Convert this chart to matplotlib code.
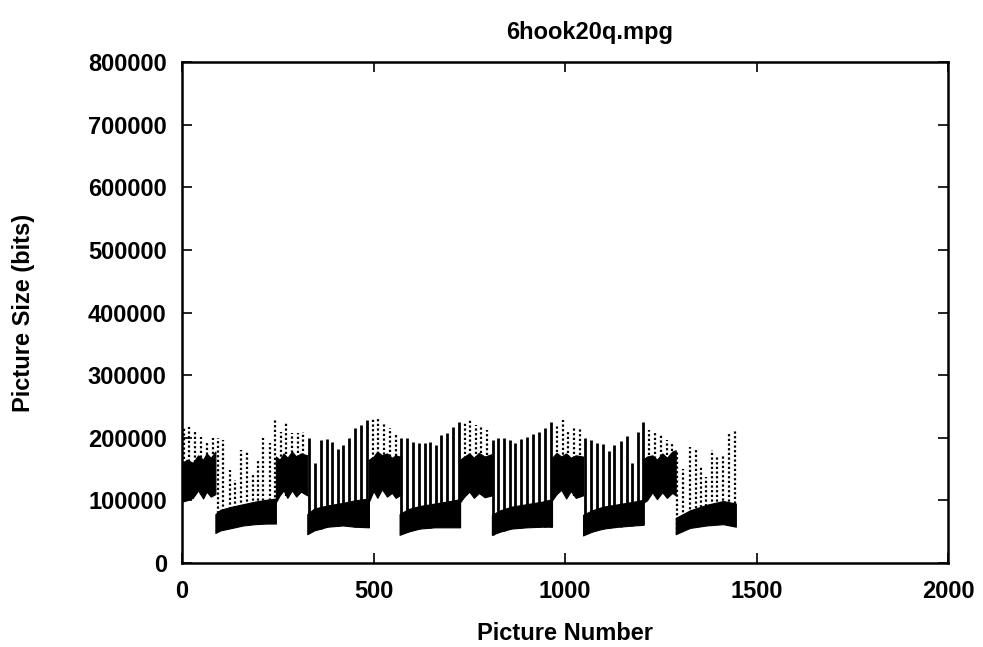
import matplotlib
matplotlib.use("Agg")
import matplotlib.pyplot as plt
import numpy as np

title = "6hook20q.mpg"
x_label = "Picture Number"
y_label = "Picture Size (bits)"
x_ticks = [0, 500, 1000, 1500, 2000]
y_ticks = [0, 100000, 200000, 300000, 400000, 500000, 600000, 700000, 800000]

# Segment bodies (B/P-frame band): frame positions and lower/upper envelope, in kbits
seg_frames = [
    [0, 12, 28, 42, 55, 64, 75, 87],
    [87, 100, 130, 160, 190, 220, 245],
    [245, 255, 265, 275, 287, 298, 310, 327],
    [327, 345, 380, 420, 450, 488],
    [488, 500, 510, 522, 535, 548, 558, 568],
    [568, 590, 620, 660, 700, 726],
    [726, 737, 750, 762, 775, 790, 809],
    [809, 830, 860, 900, 940, 966],
    [966, 978, 990, 1003, 1015, 1028, 1047],
    [1047, 1070, 1100, 1140, 1180, 1204],
    [1204, 1214, 1228, 1240, 1254, 1266, 1280, 1289],
    [1289, 1326, 1370, 1413, 1446],
]
seg_lo = [
    [98, 100, 104, 116, 103, 114, 106, 110],
    [48, 52, 56, 60, 62, 63, 63],
    [97, 108, 116, 104, 116, 106, 114, 108],
    [46, 52, 58, 60, 58, 57],
    [98, 115, 104, 118, 106, 112, 104, 108],
    [45, 50, 55, 57, 57, 57],
    [97, 106, 114, 104, 112, 105, 108],
    [45, 50, 55, 57, 58, 58],
    [100, 110, 117, 103, 115, 104, 108],
    [44, 50, 55, 58, 60, 61],
    [96, 100, 113, 102, 113, 104, 112, 108],
    [46, 56, 60, 62, 58],
]
seg_hi = [
    [158, 165, 160, 172, 165, 175, 168, 178],
    [78, 85, 90, 94, 98, 101, 103],
    [170, 165, 175, 168, 178, 170, 175, 172],
    [78, 87, 92, 96, 100, 103],
    [165, 170, 178, 172, 175, 168, 172, 170],
    [78, 86, 91, 95, 99, 102],
    [165, 170, 175, 168, 176, 170, 174],
    [77, 84, 90, 94, 98, 102],
    [168, 176, 170, 175, 168, 172, 170],
    [77, 84, 90, 94, 98, 101],
    [165, 170, 172, 165, 175, 168, 178, 180],
    [72, 84, 93, 99, 95],
]

# I-frame spikes per segment: frame numbers and peak sizes (kbits)
spike_frames = [
    [4, 19, 34, 49, 64, 80],
    [93, 106, 124, 138, 154, 169, 184, 199, 212, 230],
    [243, 258, 272, 287, 302, 317],
    [332, 347, 363, 378, 392, 408, 421, 436, 452, 467, 484],
    [499, 512, 527, 543, 559],
    [573, 588, 604, 619, 634, 648, 662, 677, 692, 708, 723],
    [738, 752, 767, 781, 796],
    [811, 826, 841, 856, 870, 885, 901, 917, 932, 948, 964],
    [978, 994, 1009, 1024, 1038],
    [1053, 1068, 1084, 1099, 1114, 1129, 1145, 1161, 1176, 1191, 1204],
    [1220, 1235, 1250, 1265, 1280],
    [1292, 1309, 1326, 1341, 1355, 1369, 1384, 1398, 1413, 1427, 1444],
]
spike_tops = [
    [215, 217, 212, 201, 193, 200],
    [200, 196, 148, 132, 180, 177, 143, 164, 200, 191],
    [228, 209, 225, 207, 207, 209],
    [200, 160, 196, 198, 193, 182, 188, 200, 216, 220, 228],
    [231, 232, 222, 216, 207],
    [200, 200, 194, 191, 192, 194, 188, 204, 207, 217, 225],
    [225, 228, 220, 217, 213],
    [197, 200, 199, 196, 192, 198, 201, 206, 209, 215, 225],
    [220, 228, 212, 215, 217],
    [200, 196, 192, 190, 179, 188, 195, 203, 160, 209, 225],
    [212, 207, 204, 196, 191],
    [177, 150, 185, 180, 153, 138, 180, 170, 172, 208, 214],
]
spike_dotted = [True, True, True, False, True, False, True, False, True, False, True, True]

plt.rcParams['font.family'] = ['Liberation Sans', 'DejaVu Sans']
plt.rcParams['font.weight'] = 'bold'

fig = plt.figure(figsize=(9.83, 6.47), dpi=100)
ax = fig.add_axes([0.1852, 0.1298, 0.9644 - 0.1852, 0.9042 - 0.1298])

for fr, lo, hi in zip(seg_frames, seg_lo, seg_hi):
    ax.fill_between(fr, np.array(lo) * 1000, np.array(hi) * 1000,
                    color='black', linewidth=0.8, edgecolor='black')

for fr, lo, sf, st, dotted in zip(seg_frames, seg_lo, spike_frames, spike_tops, spike_dotted):
    base = np.interp(sf, fr, np.array(lo) * 1000)
    tops = np.array(st) * 1000
    if dotted:
        ax.vlines(sf, base, tops, colors='black', linewidth=1.6,
                  linestyles=(0, (1.0, 1.1)))
    else:
        ax.vlines(sf, base, tops, colors='black', linewidth=2.0)

ax.set_xlim(0, 2000)
ax.set_ylim(0, 800000)
ax.set_xticks(x_ticks)
ax.set_yticks(y_ticks)
ax.set_xticklabels([str(v) for v in x_ticks])
ax.set_yticklabels([str(v) for v in y_ticks])
ax.tick_params(direction='in', length=7, width=1.2, top=True, right=True,
               labelsize=17, pad=11)
ax.tick_params(axis='x', pad=12)
for sp in ax.spines.values():
    sp.set_linewidth(1.8)

fig.text(590 / 983, 1 - 32 / 647, title, fontsize=17, fontweight='bold',
         ha='center', va='center')
ax.set_xlabel(x_label, fontsize=17, fontweight='bold', labelpad=14)
ax.set_ylabel(y_label, fontsize=17, fontweight='bold', labelpad=38)

fig.savefig("out.png", dpi=100)
